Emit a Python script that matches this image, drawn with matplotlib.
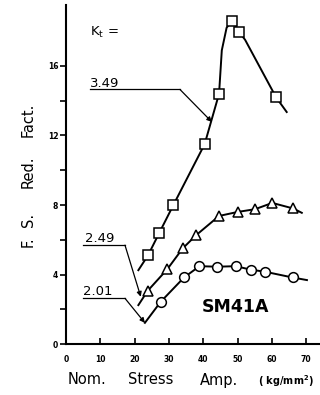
import matplotlib
matplotlib.use('Agg')
import matplotlib.pyplot as plt

# Kt = 3.49 (squares)
sq_x = [23.9, 27.2, 31.3, 40.4, 44.6, 48.4, 50.5, 61.2]
sq_y = [5.1, 6.4, 8.0, 11.5, 14.4, 18.6, 17.95, 14.2]
# hand drawn curve through the squares
sq_line_x = [21.1, 23.9, 27.2, 31.3, 40.4, 44.6, 45.4, 46.8, 48.4, 50.5, 52.2, 61.2, 64.3]
sq_line_y = [4.25, 5.1, 6.4, 8.0, 11.5, 14.4, 16.9, 18.2, 18.6, 17.95, 17.5, 14.2, 13.35]

# Kt = 2.49 (triangles)
tr_x = [23.8, 29.5, 34.0, 37.9, 44.6, 50.0, 55.1, 60.1, 66.2]
tr_y = [3.06, 4.3, 5.5, 6.26, 7.37, 7.6, 7.76, 8.12, 7.8]
tr_line_x = [21.1] + tr_x + [68.7]
tr_line_y = [2.24] + tr_y + [7.55]

# Kt = 2.01 (circles)
ci_x = [27.6, 34.4, 38.9, 44.1, 49.5, 53.8, 58.0, 66.0]
ci_y = [2.43, 3.83, 4.48, 4.45, 4.48, 4.28, 4.16, 3.83]
ci_line_x = [23.0] + ci_x + [70.2]
ci_line_y = [1.22] + ci_y + [3.68]

# label leaders
lead_349_x = [7.0, 33.2, 42.5]
lead_349_y = [14.65, 14.65, 12.78]
lead_249_x = [5.0, 17.2, 21.8]
lead_249_y = [5.69, 5.69, 2.72]
lead_201_x = [5.0, 17.2, 23.0]
lead_201_y = [2.63, 2.63, 1.22]

fig = plt.figure(figsize=(3.2, 3.95), dpi=100)
ax = fig.add_axes([0.206, 0.129, 0.794, 0.858])

ax.spines['top'].set_visible(False)
ax.spines['right'].set_visible(False)
ax.spines['left'].set_linewidth(1.5)
ax.spines['bottom'].set_linewidth(1.5)

mk = dict(markerfacecolor='white', markeredgecolor='black', markeredgewidth=1.1, linestyle='none', zorder=3)
ax.plot(sq_line_x, sq_line_y, color='black', lw=1.4)
ax.plot(sq_x, sq_y, marker='s', markersize=7, **mk)
ax.plot(tr_line_x, tr_line_y, color='black', lw=1.4)
ax.plot(tr_x, tr_y, marker='^', markersize=7, **mk)
ax.plot(ci_line_x, ci_line_y, color='black', lw=1.4)
ax.plot(ci_x, ci_y, marker='o', markersize=7, **mk)

for lx, ly in [(lead_349_x, lead_349_y), (lead_249_x, lead_249_y), (lead_201_x, lead_201_y)]:
    ax.plot(lx[:-1], ly[:-1], color='black', lw=0.9)
    ax.annotate('', xy=(lx[-1], ly[-1]), xytext=(lx[-2], ly[-2]),
                arrowprops=dict(arrowstyle='-|>', color='black', lw=0.9, mutation_scale=7,
                                shrinkA=0, shrinkB=0))

ax.text(7.0, 17.75, r'K$_\mathregular{t}$ =', fontsize=9.5)
ax.text(7.0, 14.8, '3.49', fontsize=9.5)
ax.text(5.5, 5.85, '2.49', fontsize=9.5)
ax.text(5.0, 2.8, '2.01', fontsize=9.5)
ax.text(49.3, 2.13, 'SM41A', fontsize=12.5, fontweight='bold', ha='center', va='center')

ax.set_xlim(0, 74)
ax.set_ylim(0, 19.5)
ax.set_xticks([0, 10, 20, 30, 40, 50, 60, 70])
ax.set_xticklabels(['0', '10', '20', '30', '40', '50', '60', '70'], fontsize=5.5, fontweight='bold')
ax.set_yticks([0, 2, 4, 6, 8, 10, 12, 14, 16])
ax.set_yticklabels(['0', '', '4', '', '8', '', '12', '', '16'], fontsize=5.5, fontweight='bold')
ax.tick_params(axis='x', direction='in', length=4.5, width=1.2, pad=8)
ax.tick_params(axis='y', direction='out', length=4, width=1.2, pad=1.5)

# axis titles, word by word to get the wide spacing of the original
W, H = 320.0, 395.0
for word, bottom_px in [('F.', 247), ('S.', 227), ('Red.', 188), ('Fact.', 137)]:
    fig.text(28 / W, 1 - bottom_px / H, word, rotation=90, fontsize=10.5,
             ha='center', va='bottom')
for word, left_px in [('Nom.', 68), ('Stress', 128), ('Amp.', 200)]:
    fig.text(left_px / W, 1 - 380 / H, word, fontsize=10.5, ha='left', va='center')
fig.text(258 / W, 1 - 381 / H, '( kg/mm$^\mathregular{2}$)', fontsize=7, fontweight='bold',
         ha='left', va='center')

fig.savefig('out.png', dpi=100)
